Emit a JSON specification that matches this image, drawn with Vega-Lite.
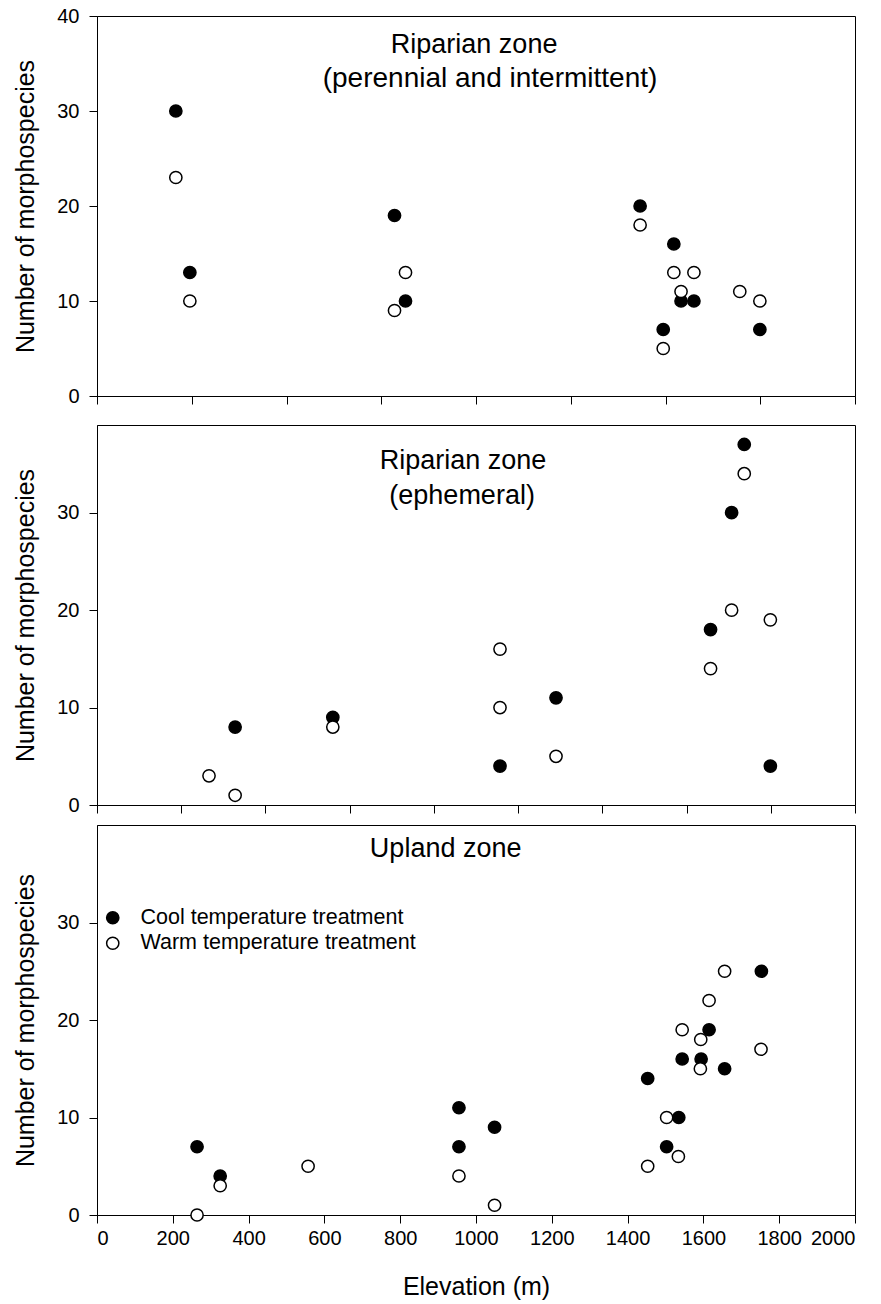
{
  "$schema": "https://vega.github.io/schema/vega-lite/v6.json",
  "padding": {"left": 13, "top": 5, "right": 2, "bottom": 2},
  "background": "white",
  "datasets": {
    "pts": [
      {"panel": 1, "treatment": "Cool temperature treatment", "elevation": 208, "species": 30},
      {"panel": 1, "treatment": "Cool temperature treatment", "elevation": 245, "species": 13},
      {"panel": 1, "treatment": "Cool temperature treatment", "elevation": 785, "species": 19},
      {"panel": 1, "treatment": "Cool temperature treatment", "elevation": 814, "species": 10},
      {"panel": 1, "treatment": "Cool temperature treatment", "elevation": 1433, "species": 20},
      {"panel": 1, "treatment": "Cool temperature treatment", "elevation": 1494, "species": 7},
      {"panel": 1, "treatment": "Cool temperature treatment", "elevation": 1522, "species": 16},
      {"panel": 1, "treatment": "Cool temperature treatment", "elevation": 1541, "species": 10},
      {"panel": 1, "treatment": "Cool temperature treatment", "elevation": 1575, "species": 10},
      {"panel": 1, "treatment": "Cool temperature treatment", "elevation": 1749, "species": 7},
      {"panel": 1, "treatment": "Warm temperature treatment", "elevation": 208, "species": 23},
      {"panel": 1, "treatment": "Warm temperature treatment", "elevation": 245, "species": 10},
      {"panel": 1, "treatment": "Warm temperature treatment", "elevation": 785, "species": 9},
      {"panel": 1, "treatment": "Warm temperature treatment", "elevation": 814, "species": 13},
      {"panel": 1, "treatment": "Warm temperature treatment", "elevation": 1433, "species": 18},
      {"panel": 1, "treatment": "Warm temperature treatment", "elevation": 1494, "species": 5},
      {"panel": 1, "treatment": "Warm temperature treatment", "elevation": 1522, "species": 13},
      {"panel": 1, "treatment": "Warm temperature treatment", "elevation": 1541, "species": 11},
      {"panel": 1, "treatment": "Warm temperature treatment", "elevation": 1575, "species": 13},
      {"panel": 1, "treatment": "Warm temperature treatment", "elevation": 1696, "species": 11},
      {"panel": 1, "treatment": "Warm temperature treatment", "elevation": 1749, "species": 10},
      {"panel": 2, "treatment": "Cool temperature treatment", "elevation": 328, "species": 8},
      {"panel": 2, "treatment": "Cool temperature treatment", "elevation": 560, "species": 9},
      {"panel": 2, "treatment": "Cool temperature treatment", "elevation": 957, "species": 4},
      {"panel": 2, "treatment": "Cool temperature treatment", "elevation": 1090, "species": 11},
      {"panel": 2, "treatment": "Cool temperature treatment", "elevation": 1457, "species": 18},
      {"panel": 2, "treatment": "Cool temperature treatment", "elevation": 1507, "species": 30},
      {"panel": 2, "treatment": "Cool temperature treatment", "elevation": 1537, "species": 37},
      {"panel": 2, "treatment": "Cool temperature treatment", "elevation": 1599, "species": 4},
      {"panel": 2, "treatment": "Warm temperature treatment", "elevation": 266, "species": 3},
      {"panel": 2, "treatment": "Warm temperature treatment", "elevation": 328, "species": 1},
      {"panel": 2, "treatment": "Warm temperature treatment", "elevation": 560, "species": 8},
      {"panel": 2, "treatment": "Warm temperature treatment", "elevation": 957, "species": 16},
      {"panel": 2, "treatment": "Warm temperature treatment", "elevation": 957, "species": 10},
      {"panel": 2, "treatment": "Warm temperature treatment", "elevation": 1090, "species": 5},
      {"panel": 2, "treatment": "Warm temperature treatment", "elevation": 1457, "species": 14},
      {"panel": 2, "treatment": "Warm temperature treatment", "elevation": 1507, "species": 20},
      {"panel": 2, "treatment": "Warm temperature treatment", "elevation": 1537, "species": 34},
      {"panel": 2, "treatment": "Warm temperature treatment", "elevation": 1599, "species": 19},
      {"panel": 3, "treatment": "Cool temperature treatment", "elevation": 264, "species": 7},
      {"panel": 3, "treatment": "Cool temperature treatment", "elevation": 325, "species": 4},
      {"panel": 3, "treatment": "Cool temperature treatment", "elevation": 955, "species": 11},
      {"panel": 3, "treatment": "Cool temperature treatment", "elevation": 955, "species": 7},
      {"panel": 3, "treatment": "Cool temperature treatment", "elevation": 1049, "species": 9},
      {"panel": 3, "treatment": "Cool temperature treatment", "elevation": 1453, "species": 14},
      {"panel": 3, "treatment": "Cool temperature treatment", "elevation": 1503, "species": 7},
      {"panel": 3, "treatment": "Cool temperature treatment", "elevation": 1535, "species": 10},
      {"panel": 3, "treatment": "Cool temperature treatment", "elevation": 1544, "species": 16},
      {"panel": 3, "treatment": "Cool temperature treatment", "elevation": 1594, "species": 16},
      {"panel": 3, "treatment": "Cool temperature treatment", "elevation": 1615, "species": 19},
      {"panel": 3, "treatment": "Cool temperature treatment", "elevation": 1656, "species": 15},
      {"panel": 3, "treatment": "Cool temperature treatment", "elevation": 1753, "species": 25},
      {"panel": 3, "treatment": "Warm temperature treatment", "elevation": 264, "species": 0},
      {"panel": 3, "treatment": "Warm temperature treatment", "elevation": 325, "species": 3},
      {"panel": 3, "treatment": "Warm temperature treatment", "elevation": 557, "species": 5},
      {"panel": 3, "treatment": "Warm temperature treatment", "elevation": 955, "species": 4},
      {"panel": 3, "treatment": "Warm temperature treatment", "elevation": 1049, "species": 1},
      {"panel": 3, "treatment": "Warm temperature treatment", "elevation": 1453, "species": 5},
      {"panel": 3, "treatment": "Warm temperature treatment", "elevation": 1503, "species": 10},
      {"panel": 3, "treatment": "Warm temperature treatment", "elevation": 1534, "species": 6},
      {"panel": 3, "treatment": "Warm temperature treatment", "elevation": 1544, "species": 19},
      {"panel": 3, "treatment": "Warm temperature treatment", "elevation": 1593, "species": 18},
      {"panel": 3, "treatment": "Warm temperature treatment", "elevation": 1592, "species": 15},
      {"panel": 3, "treatment": "Warm temperature treatment", "elevation": 1615, "species": 22},
      {"panel": 3, "treatment": "Warm temperature treatment", "elevation": 1656, "species": 25},
      {"panel": 3, "treatment": "Warm temperature treatment", "elevation": 1752, "species": 17}
    ]
  },
  "config": {
    "font": "Liberation Sans",
    "view": {"stroke": "black", "strokeWidth": 1},
    "axis": {
      "grid": false,
      "domainColor": "black",
      "domainWidth": 1,
      "tickColor": "black",
      "tickWidth": 1,
      "tickSize": 8,
      "labelColor": "black",
      "labelFontSize": 20,
      "labelFont": "Liberation Sans",
      "titleFont": "Liberation Sans",
      "titleFontSize": 25,
      "titleFontWeight": "normal",
      "titleColor": "black",
      "format": "d"
    },
    "axisY": {"labelPadding": 10, "titlePadding": 18},
    "axisX": {"labelPadding": 5, "titlePadding": 26},
    "text": {"font": "Liberation Sans", "color": "black"}
  },
  "resolve": {"scale": {"fill": "independent", "x": "independent", "y": "independent"}, "legend": {"fill": "independent"}},
  "spacing": 8,
  "vconcat": [
    {
      "spacing": 17,
      "resolve": {"scale": {"fill": "independent", "x": "independent", "y": "independent"}, "legend": {"fill": "independent"}},
      "vconcat": [
        {
          "width": 758,
          "height": 380,
          "layer": [
            {
              "data": {"name": "pts"},
              "transform": [{"filter": "datum.panel == 1"}],
              "mark": {"type": "point", "shape": "circle", "filled": true, "size": 150, "stroke": "black", "strokeWidth": 1.5, "opacity": 1},
              "encoding": {
                "x": {"field": "elevation", "type": "quantitative", "scale": {"domain": [0, 2000], "nice": false}, "axis": {"values": [0, 250, 500, 750, 1000, 1250, 1500, 1750, 2000], "labels": false, "title": null}},
                "y": {"field": "species", "type": "quantitative", "scale": {"domain": [0, 40], "nice": false}, "axis": {"values": [0, 10, 20, 30, 40], "title": "Number of morphospecies"}},
                "fill": {"field": "treatment", "type": "nominal", "scale": {"domain": ["Cool temperature treatment", "Warm temperature treatment"], "range": ["black", "white"]}, "legend": null}
              }
            },
            {
              "data": {"values": [{"t": "Riparian zone"}]},
              "mark": {"type": "text", "fontSize": 27, "align": "center", "baseline": "middle"},
              "encoding": {"x": {"datum": 995}, "y": {"datum": 36.9}, "text": {"field": "t"}}
            },
            {
              "data": {"values": [{"t": "(perennial and intermittent)"}]},
              "mark": {"type": "text", "fontSize": 28, "align": "center", "baseline": "middle"},
              "encoding": {"x": {"datum": 1037}, "y": {"datum": 33.4}, "text": {"field": "t"}}
            }
          ]
        },
        {
          "width": 758,
          "height": 380,
          "layer": [
            {
              "data": {"name": "pts"},
              "transform": [{"filter": "datum.panel == 2"}],
              "mark": {"type": "point", "shape": "circle", "filled": true, "size": 150, "stroke": "black", "strokeWidth": 1.5, "opacity": 1},
              "encoding": {
                "x": {"field": "elevation", "type": "quantitative", "scale": {"domain": [0, 1800], "nice": false}, "axis": {"values": [0, 200, 400, 600, 800, 1000, 1200, 1400, 1600, 1800], "labels": false, "title": null}},
                "y": {"field": "species", "type": "quantitative", "scale": {"domain": [0, 39], "nice": false}, "axis": {"values": [0, 10, 20, 30], "title": "Number of morphospecies"}},
                "fill": {"field": "treatment", "type": "nominal", "scale": {"domain": ["Cool temperature treatment", "Warm temperature treatment"], "range": ["black", "white"]}, "legend": null}
              }
            },
            {
              "data": {"values": [{"t": "Riparian zone"}]},
              "mark": {"type": "text", "fontSize": 27, "align": "center", "baseline": "middle"},
              "encoding": {"x": {"datum": 869}, "y": {"datum": 35.3}, "text": {"field": "t"}}
            },
            {
              "data": {"values": [{"t": "(ephemeral)"}]},
              "mark": {"type": "text", "fontSize": 27, "align": "center", "baseline": "middle"},
              "encoding": {"x": {"datum": 867}, "y": {"datum": 31.7}, "text": {"field": "t"}}
            }
          ]
        }
      ]
    },
    {
      "width": 758,
      "height": 390,
      "layer": [
        {
          "data": {"name": "pts"},
          "transform": [{"filter": "datum.panel == 3"}],
          "mark": {"type": "point", "shape": "circle", "filled": true, "size": 150, "stroke": "black", "strokeWidth": 1.5, "opacity": 1},
          "encoding": {
            "x": {"field": "elevation", "type": "quantitative", "scale": {"domain": [0, 2000], "nice": false}, "axis": {"values": [0, 200, 400, 600, 800, 1000, 1200, 1400, 1600, 1800, 2000], "title": "Elevation (m)"}},
            "y": {"field": "species", "type": "quantitative", "scale": {"domain": [0, 40], "nice": false}, "axis": {"values": [0, 10, 20, 30], "title": "Number of morphospecies"}},
            "fill": {"field": "treatment", "type": "nominal", "title": null,
              "scale": {"domain": ["Cool temperature treatment", "Warm temperature treatment"], "range": ["black", "white"]},
              "legend": {"orient": "none", "legendX": 5, "legendY": 82, "padding": 0, "symbolType": "circle", "symbolSize": 150, "symbolStrokeColor": "black", "symbolStrokeWidth": 1.5, "symbolOpacity": 1, "labelFontSize": 21.5, "labelFont": "Liberation Sans", "labelColor": "black", "labelOffset": 17, "rowPadding": 2.5, "labelLimit": 500}}
          }
        },
        {
          "data": {"values": [{"t": "Upland zone"}]},
          "mark": {"type": "text", "fontSize": 27, "align": "center", "baseline": "middle"},
          "encoding": {"x": {"datum": 920}, "y": {"datum": 37.5}, "text": {"field": "t"}}
        }
      ]
    }
  ]
}
